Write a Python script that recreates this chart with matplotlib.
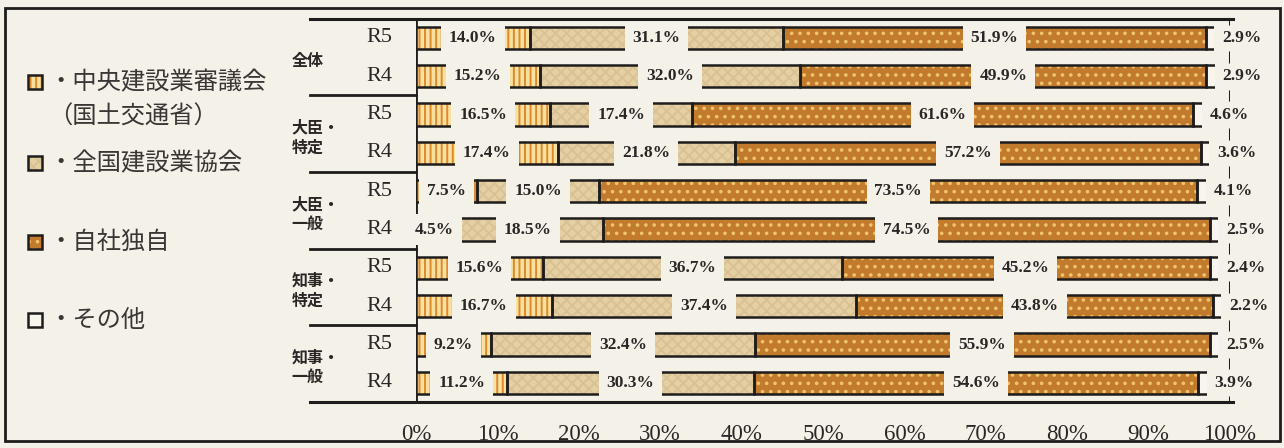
import matplotlib
matplotlib.use("Agg")
import matplotlib.pyplot as plt
from matplotlib.patches import Rectangle
import numpy as np

plt.rcParams["font.family"] = ["Noto Sans CJK JP", "DejaVu Sans"]
plt.rcParams["hatch.linewidth"] = 1.4

# data (rows top to bottom)
groups = ["全体", "大臣・\n特定", "大臣・\n一般", "知事・\n特定", "知事・\n一般"]
years = ["R5", "R4"]
legend_labels = ["・中央建設業審議会", "・全国建設業協会", "・自社独自", "・その他"]
legend_note = "（国土交通省）"

chuo = [14.0, 15.2, 16.5, 17.4, 7.5, 4.5, 15.6, 16.7, 9.2, 11.2]
zenken = [31.1, 32.0, 17.4, 21.8, 15.0, 18.5, 36.7, 37.4, 32.4, 30.3]
jisha = [51.9, 49.9, 61.6, 57.2, 73.5, 74.5, 45.2, 43.8, 55.9, 54.6]
sonota = [2.9, 2.9, 4.6, 3.6, 4.1, 2.5, 2.4, 2.2, 2.5, 3.9]

xticks = [0, 10, 20, 30, 40, 50, 60, 70, 80, 90, 100]

BG = "#f4f2e8"
INK = "#1e1c1c"
TXT = "#2a2626"
W, H = 1284, 448

# face, hatch, hatch colour for each series
styles = [
    ("#f7e0a0", "|||", "#de8a2a"),
    ("#e5d0a4", "xxx", "#d9c194"),
    ("#c27a2c", "..", "#f0c46c"),
    ("#f8f5ec", None, "#f8f5ec"),
]

fig = plt.figure(figsize=(W / 100, H / 100), dpi=100)
fig.patch.set_facecolor(BG)
ax = fig.add_axes([416 / W, 1 - 402 / H, 814 / W, (402 - 18.8) / H])
ax.set_facecolor("none")
ax.set_xlim(0, 100)
ax.set_ylim(9.5, -0.5)
for side in ax.spines:
    ax.spines[side].set_visible(False)

y = np.arange(len(chuo))
values = np.array([chuo, zenken, jisha, sonota])
lefts = np.vstack([np.zeros(len(chuo)), np.cumsum(values, axis=0)[:-1]])

for k, (face, hatch, hcolor) in enumerate(styles):
    ax.barh(y, values[k], left=lefts[k], height=0.58, color=face,
            edgecolor=hcolor, hatch=hatch, linewidth=0, zorder=2)
    ax.barh(y, values[k], left=lefts[k], height=0.58, facecolor="none",
            edgecolor=INK, linewidth=1.8, zorder=3)

label_box = dict(boxstyle="square,pad=0.45", fc=BG, ec="none")
for k in range(3):
    for i in y:
        ax.text(lefts[k][i] + values[k][i] / 2, i, f"{values[k][i]:.1f}%",
                ha="center", va="center", fontsize=12.5, family="Liberation Serif",
                weight="bold", color=TXT, bbox=label_box, zorder=6)
for i in y:
    ax.text(lefts[3][i] + 2.0, i, f"{values[3][i]:.1f}%",
            ha="left", va="center", fontsize=12.5, family="Liberation Serif",
            weight="bold", color=TXT, bbox=label_box, zorder=6)

# frame lines
ax.axvline(0, color=INK, lw=2, zorder=1)
ax.plot([-13, 100.4], [-0.5, -0.5], color=INK, lw=2.2, clip_on=False, zorder=4)
ax.plot([-13, 100.4], [9.5, 9.5], color=INK, lw=2.2, clip_on=False, zorder=4)
for g in range(1, len(groups)):
    ax.plot([-13, 0], [2 * g - 0.5] * 2, color=INK, lw=2, clip_on=False, zorder=4)
gaps = np.arange(-0.5, len(chuo), 1.0)
ax.vlines(np.full(len(gaps), 100.0), gaps - 0.15, gaps + 0.15, color=INK,
          lw=2.2, zorder=7)

# row and group labels
for i in y:
    ax.text(-2.9, i, years[i % 2], ha="right", va="center", fontsize=16,
            family="Liberation Serif", color=TXT)
for g, name in enumerate(groups):
    ax.text(-15.3, 2 * g + 0.6, name, ha="left", va="center", fontsize=11.5,
            weight="bold", color=TXT, linespacing=1.3)

ax.set_yticks([])
ax.set_xticks(xticks)
ax.set_xticklabels([f"{t}%" for t in xticks], family="Liberation Serif",
                   fontsize=16.5, color=TXT)
ax.tick_params(axis="x", length=0, pad=16)

# legend on the left
legend_y = [82, 163, 242, 320]
for (face, hatch, hcolor), label, ly in zip(styles, legend_labels, legend_y):
    fig.add_artist(Rectangle((28 / W, 1 - (ly + 7) / H), 14 / W, 14 / H,
                             transform=fig.transFigure, facecolor=face,
                             edgecolor=hcolor, hatch=hatch, linewidth=0))
    fig.add_artist(Rectangle((28 / W, 1 - (ly + 7) / H), 14 / W, 14 / H,
                             transform=fig.transFigure, facecolor="none",
                             edgecolor=INK, linewidth=1.8))
    fig.text(48 / W, 1 - ly / H, label, ha="left", va="center", fontsize=17.5,
             color="#3a3636")
fig.text(48 / W, 1 - 117 / H, legend_note, ha="left", va="center", fontsize=17.5,
         color="#3a3636")

# outer border
fig.add_artist(Rectangle((5 / W, 1 - 441 / H), 1275 / W, 433 / H,
                         transform=fig.transFigure, fill=False,
                         edgecolor=INK, linewidth=2))

fig.savefig("out.png", dpi=100, facecolor=fig.get_facecolor())
